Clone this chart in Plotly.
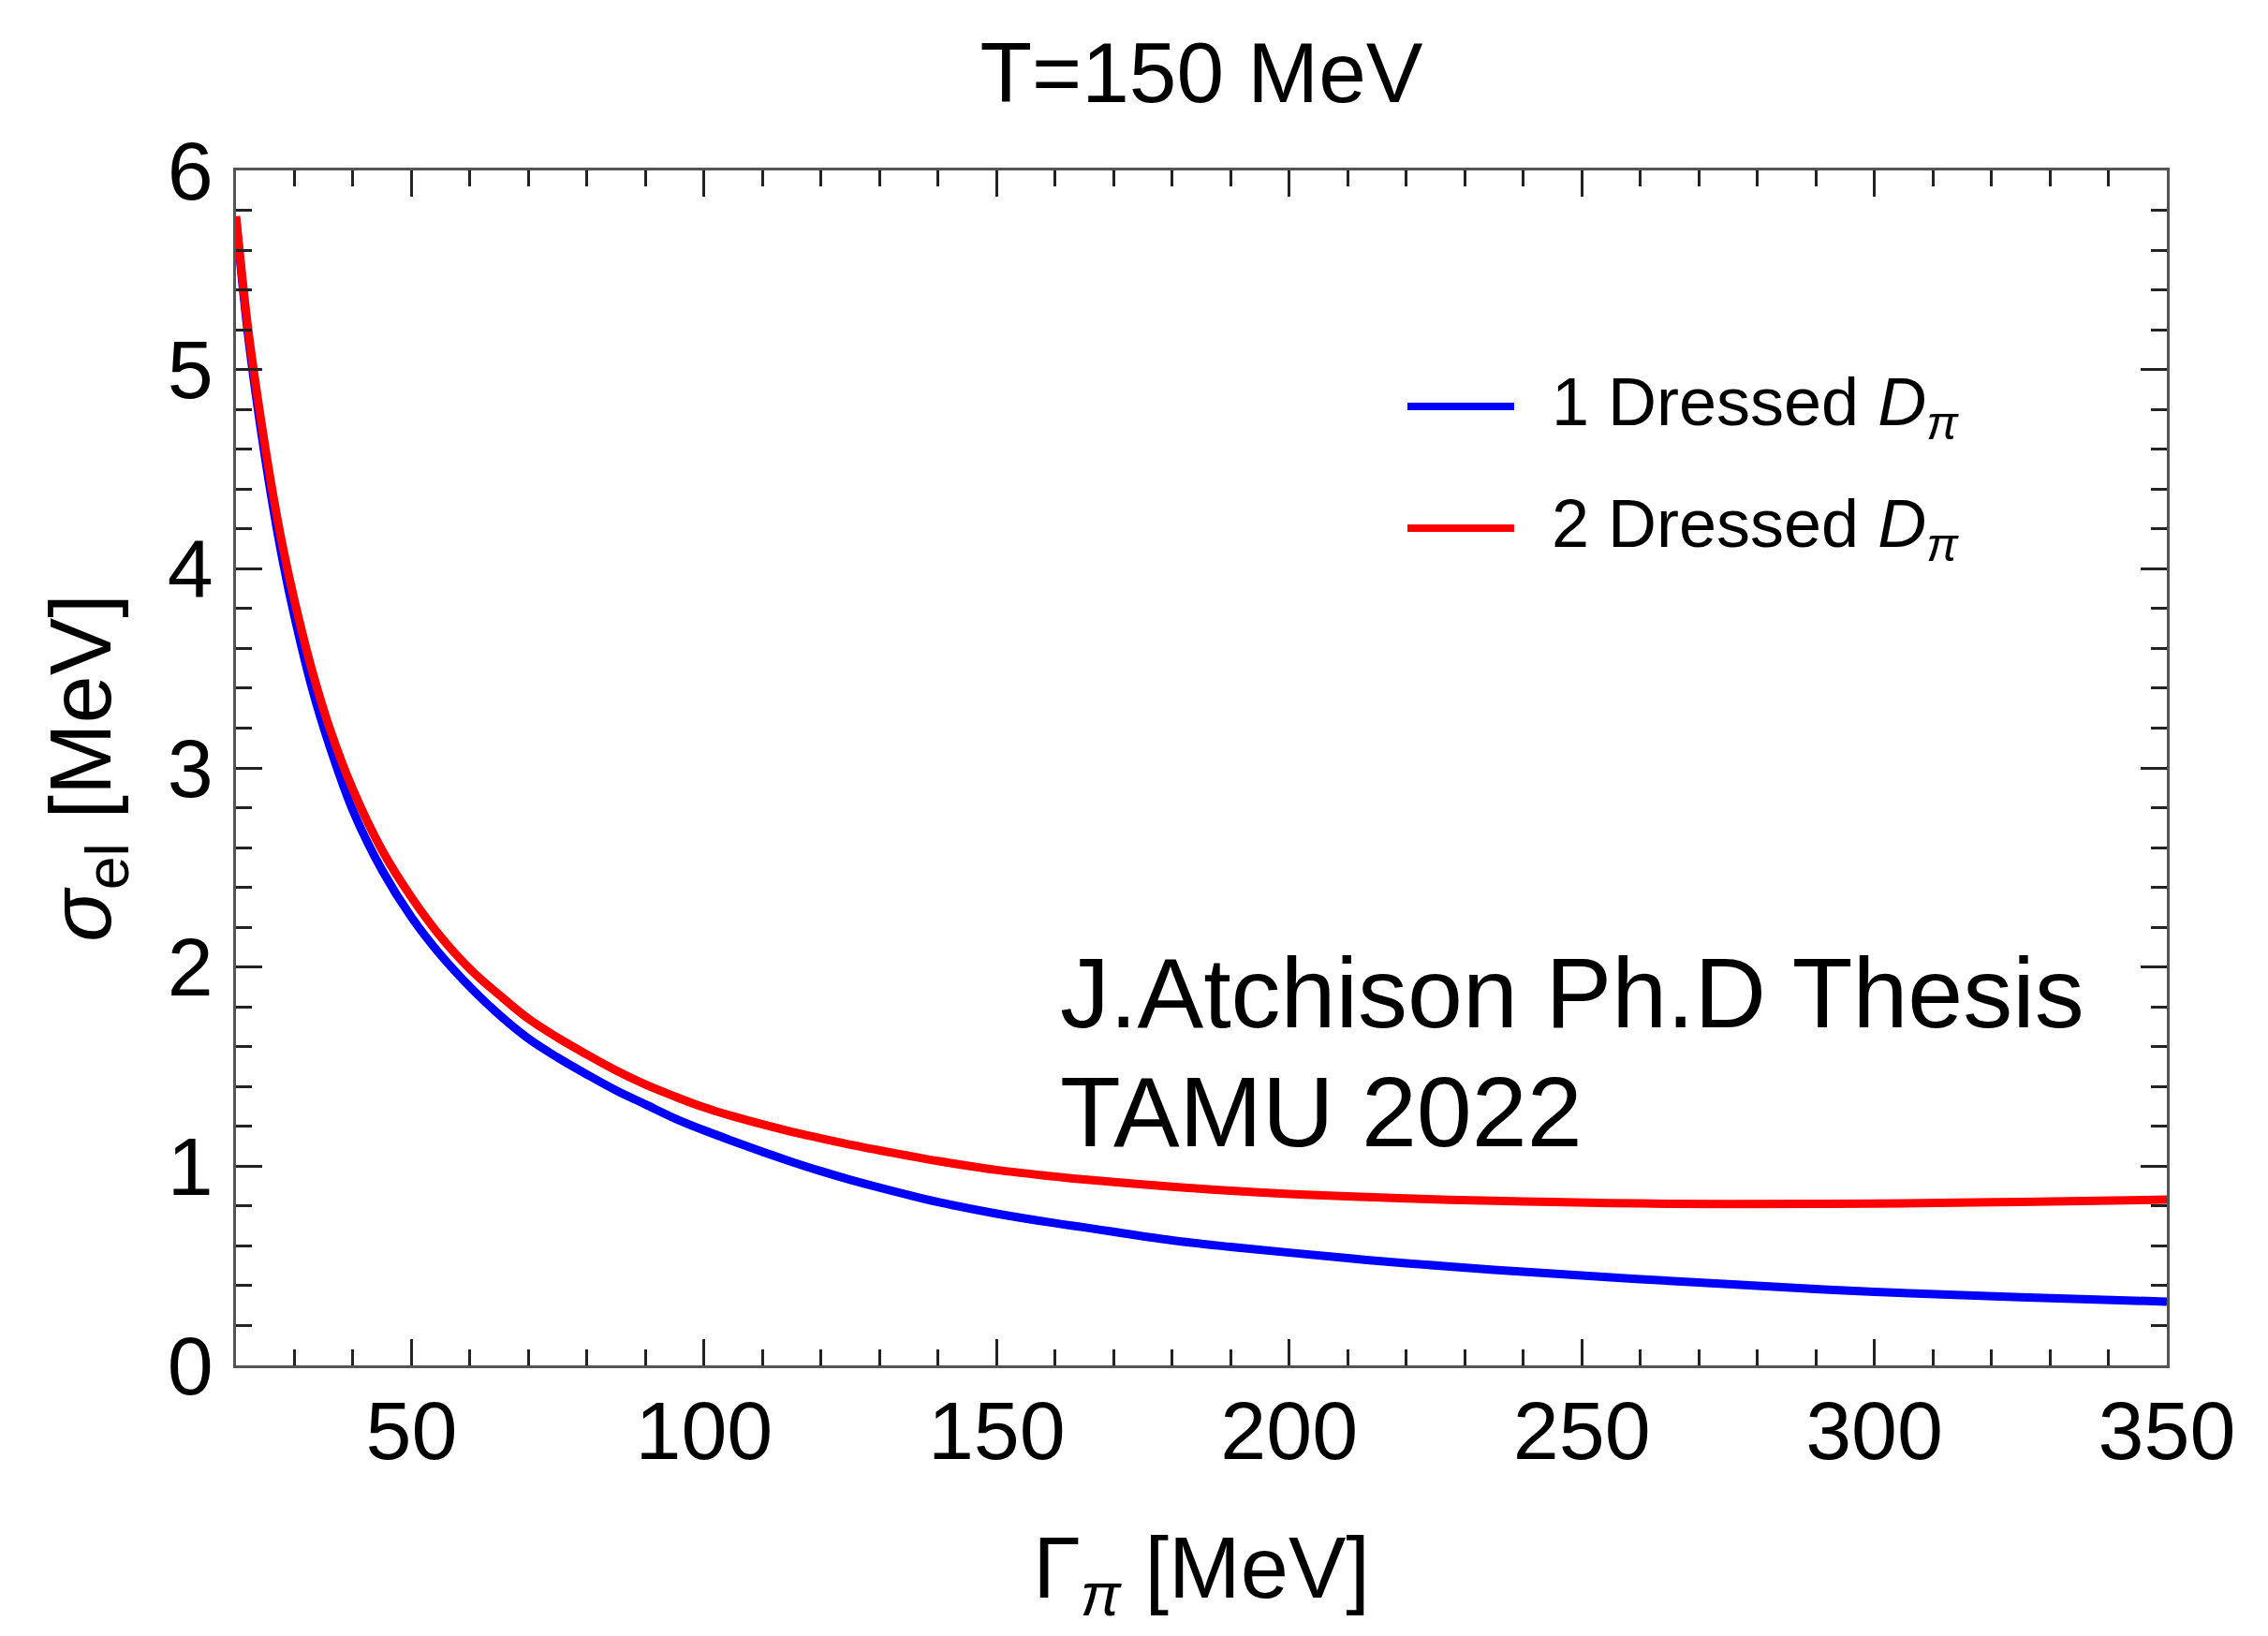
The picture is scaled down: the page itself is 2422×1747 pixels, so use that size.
import plotly.graph_objects as go

# ---- data ----
gamma_pi = [20, 22, 24, 26, 28, 30, 33, 36, 40, 45, 50, 55, 60, 65, 70, 75, 80, 85, 90,
            95, 100, 105, 110, 115, 120, 125, 135, 140, 150, 160, 165, 180, 190, 200,
            210, 220, 235, 245, 260, 275, 300, 325, 350]
sigma_1dressed = [5.76, 5.19, 4.75, 4.37, 4.04, 3.76, 3.40, 3.11, 2.785, 2.485, 2.25,
                  2.06, 1.90, 1.76, 1.64, 1.545, 1.46, 1.38, 1.31, 1.24, 1.18, 1.125,
                  1.072, 1.022, 0.975, 0.932, 0.855, 0.82, 0.762, 0.714, 0.693, 0.628,
                  0.595, 0.566, 0.538, 0.513, 0.48, 0.461, 0.433, 0.408, 0.369, 0.342, 0.32]
sigma_2dressed = [5.77, 5.22, 4.80, 4.43, 4.11, 3.84, 3.49, 3.20, 2.89, 2.585, 2.35,
                  2.152, 1.99, 1.86, 1.74, 1.645, 1.56, 1.48, 1.41, 1.35, 1.295, 1.25,
                  1.21, 1.173, 1.14, 1.108, 1.052, 1.026, 0.981, 0.948, 0.933, 0.897,
                  0.877, 0.861, 0.849, 0.838, 0.826, 0.82, 0.813, 0.81, 0.812, 0.821, 0.832]

series_names = ["1 Dressed <i>D</i><sub><i>π</i></sub>",
                "2 Dressed <i>D</i><sub><i>π</i></sub>"]
series_colors = ["#0000ff", "#ff0000"]

x_ticks = [50, 100, 150, 200, 250, 300, 350]
y_ticks = [0, 1, 2, 3, 4, 5, 6]

title_text = "T=150 MeV"
x_title = "Γ<sub><i>π</i></sub> [MeV]"
y_title = "<i>σ</i><sub>el</sub> [MeV]"
note_lines = ["J.Atchison Ph.D Thesis", "TAMU 2022"]

FONT = "Liberation Sans, Arial, Helvetica, sans-serif"

# figure sits inside the page body (8 px default margin)
W, H = 2406, 1731
L, R, T, B = 244, 100, 174, 281
PW, PH = W - L - R, H - T - B


def px(xp):
    return (xp - L) / PW


def py(yp):
    return (H - B - yp) / PH


fig = go.Figure()
for ys, name, col in zip([sigma_1dressed, sigma_2dressed], series_names, series_colors):
    fig.add_trace(go.Scatter(x=gamma_pi, y=ys, mode="lines", name=name,
                             line=dict(color=col, width=9, shape="spline", smoothing=1.0),
                             showlegend=False))

axis_common = dict(showline=True, linecolor="#555555", linewidth=2.5, mirror="ticks",
                   ticks="inside", tickcolor="#222222", tickwidth=2.5, ticklen=28,
                   showgrid=False, zeroline=False,
                   tickfont=dict(family=FONT, size=88, color="black"))

fig.update_xaxes(range=[20, 350], tickvals=x_ticks, ticktext=[str(v) for v in x_ticks],
                 minor=dict(ticks="inside", dtick=10, tick0=0, ticklen=17,
                            tickwidth=2.5, tickcolor="#222222", showgrid=False),
                 ticklabelstandoff=-8,
                 title=dict(text=x_title, font=dict(family=FONT, size=92, color="black"),
                            standoff=72),
                 **axis_common)
fig.update_yaxes(range=[0, 6], tickvals=y_ticks, ticktext=[str(v) for v in y_ticks],
                 minor=dict(ticks="inside", dtick=0.2, tick0=0, ticklen=17,
                            tickwidth=2.5, tickcolor="#222222", showgrid=False),
                 ticklabelstandoff=4,
                 title=dict(text=y_title, font=dict(family=FONT, size=92, color="black"),
                            standoff=30),
                 **axis_common)

shapes = []
annotations = []
# legend drawn in the upper right of the frame
leg_rows_y = [426, 556]
for yy, name, col in zip(leg_rows_y, series_names, series_colors):
    shapes.append(dict(type="line", xref="paper", yref="paper",
                       x0=px(1495), x1=px(1609), y0=py(yy), y1=py(yy),
                       line=dict(color=col, width=8)))
    annotations.append(dict(xref="paper", yref="paper", x=px(1647), y=py(yy),
                            xanchor="left", yanchor="middle", showarrow=False,
                            text=name, font=dict(family=FONT, size=72, color="black")))

for line_text, top in zip(note_lines, [991, 1118]):
    annotations.append(dict(xref="paper", yref="paper", x=px(1122), y=py(top),
                            xanchor="left", yanchor="top", align="left", showarrow=False,
                            text=line_text, font=dict(family=FONT, size=106, color="black")))

fig.update_layout(
    width=W, height=H, autosize=False,
    margin=dict(l=L, r=R, t=T, b=B, pad=0),
    paper_bgcolor="white", plot_bgcolor="white",
    title=dict(text=title_text, x=0.5, xref="paper", xanchor="center",
               y=1 - 69 / H, yref="container", yanchor="middle",
               font=dict(family=FONT, size=91, color="black")),
    shapes=shapes, annotations=annotations, showlegend=False,
)

fig.write_html("out.html")
